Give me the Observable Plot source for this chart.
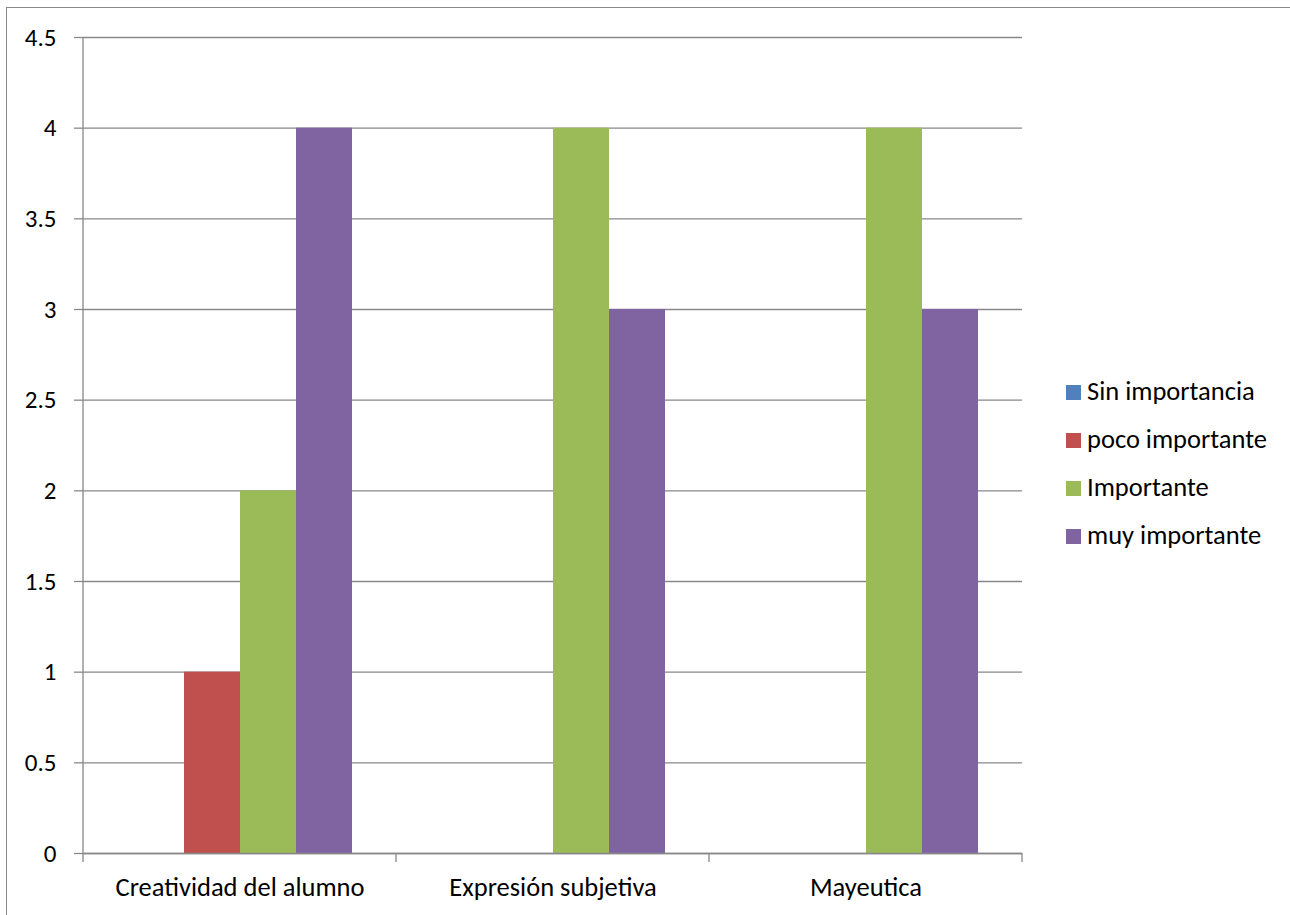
<!DOCTYPE html>
<html>
<head>
<meta charset="utf-8">
<script src="https://cdn.jsdelivr.net/npm/d3@7"></script>
<script src="https://cdn.jsdelivr.net/npm/@observablehq/plot@0.6"></script>
<style>
  body { margin: 0; background: #fff; }
  #wrap { position: relative; width: 1290px; height: 915px; overflow: hidden; font-family: Carlito, Calibri, Lato, sans-serif; }
  #frame { position: absolute; left: 6px; top: 7px; width: 1400px; height: 1000px; border: 1.5px solid #8a8a8a; box-sizing: border-box; }
  #chart { position: absolute; left: 0; top: 0; }
  #legend { position: absolute; left: 1066px; top: 385px; }
  .item { position: absolute; left: 0; white-space: nowrap; font-size: 26.5px; color: #000; }
  .sw { position: absolute; left: 0; top: 0; width: 15px; height: 15px; }
  .lab { position: absolute; left: 21px; top: -7px; line-height: 26px; }
</style>
</head>
<body>
<div id="wrap">
  <div id="frame"></div>
  <div id="chart"></div>
  <div id="legend"></div>
</div>
<script>
const categories = ["Creatividad del alumno", "Expresión subjetiva", "Mayeutica"];
const series = ["Sin importancia", "poco importante", "Importante", "muy importante"];
const sinImportancia = [0, 0, 0];
const pocoImportante = [1, 0, 0];
const importante = [2, 4, 4];
const muyImportante = [4, 3, 3];
const seriesColors = ["#4F81BD", "#C0504D", "#9BBB59", "#8064A2"];
const yTicks = [0, 0.5, 1, 1.5, 2, 2.5, 3, 3.5, 4, 4.5];

const seriesValues = [sinImportancia, pocoImportante, importante, muyImportante];
const data = categories.flatMap((c, i) =>
  series.map((s, j) => ({category: c, series: s, value: seriesValues[j][i]}))
);

const gridColor = "#888888";

const plot = Plot.plot({
  width: 1290,
  height: 915,
  marginLeft: 82,
  marginRight: 267,
  marginTop: 37,
  marginBottom: 62,
  style: {fontFamily: "Carlito, Calibri, Lato, sans-serif", fontSize: "25px", color: "#000", background: "transparent", overflow: "visible"},
  fx: {domain: categories, padding: 0, label: null},
  x: {domain: series, paddingInner: 0, paddingOuter: 0.75, axis: null},
  y: {domain: [0, 4.5], label: null},
  color: {domain: series, range: seriesColors},
  marks: [
    Plot.gridY(yTicks, {stroke: gridColor, strokeOpacity: 1, strokeWidth: 1.3}),
    Plot.axisY(yTicks, {tickSize: 9, tickPadding: 18, stroke: gridColor, strokeOpacity: 1, strokeWidth: 1.3, tickFormat: d => String(d), label: null, fill: "#000", fontSize: 25}),
    Plot.barY(data, {fx: "category", x: "series", y: "value", fill: "series"}),
    Plot.ruleY([0], {stroke: gridColor, strokeWidth: 1.3}),
    Plot.axisFx({anchor: "bottom", tickSize: 0, tickPadding: 24, label: null, fill: "#000", fontSize: 26.5})
  ]
});
document.getElementById("chart").appendChild(plot);

// Axis line and category boundary ticks from the plot's scales
const fx = plot.scale("fx");
const y = plot.scale("y");
const svg = d3.select(plot);
const x0 = fx.apply(categories[0]);
const bounds = categories.map(c => fx.apply(c)).concat([fx.apply(categories[categories.length - 1]) + fx.bandwidth]);
const g = svg.append("g").attr("stroke", gridColor).attr("stroke-width", 1.3);
g.append("line").attr("x1", x0).attr("x2", x0).attr("y1", y.apply(4.5)).attr("y2", y.apply(0));
bounds.forEach(b => {
  g.append("line").attr("x1", b).attr("x2", b).attr("y1", y.apply(0)).attr("y2", y.apply(0) + 9);
});

// Legend
const legend = document.getElementById("legend");
series.forEach((s, i) => {
  const item = document.createElement("div");
  item.className = "item";
  item.style.top = (i * 48) + "px";
  const sw = document.createElement("div");
  sw.className = "sw";
  sw.style.background = seriesColors[i];
  const lab = document.createElement("div");
  lab.className = "lab";
  lab.textContent = s;
  item.appendChild(sw);
  item.appendChild(lab);
  legend.appendChild(item);
});
</script>
</body>
</html>
